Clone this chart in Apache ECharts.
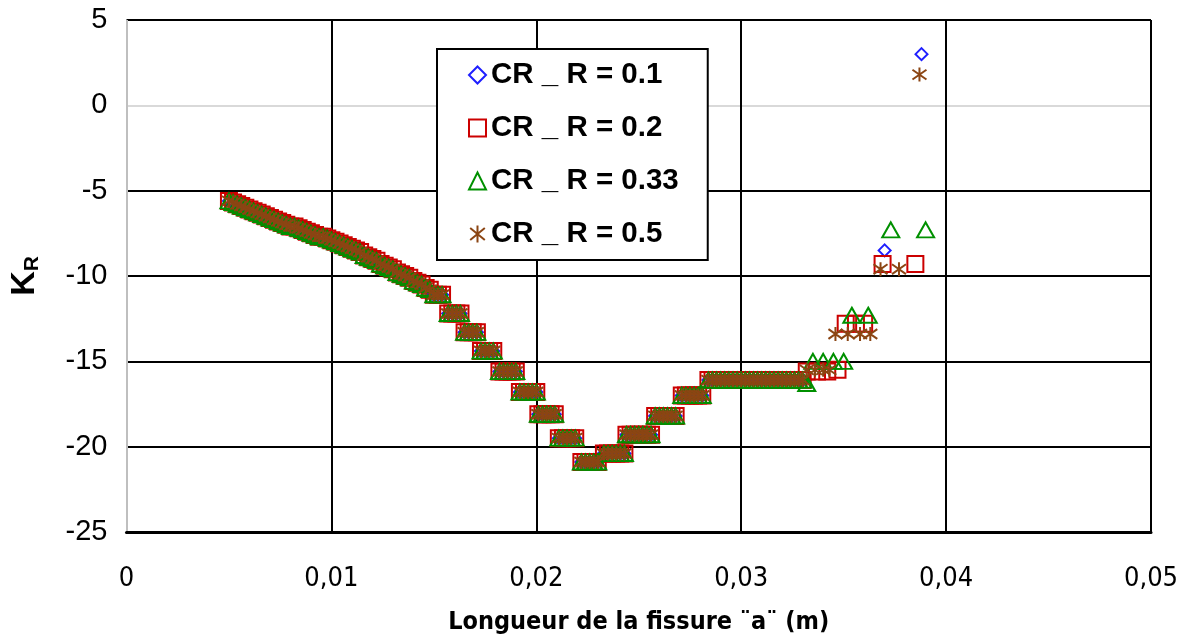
<!DOCTYPE html>
<html>
<head>
<meta charset="utf-8">
<script src="https://cdn.jsdelivr.net/npm/echarts@6/dist/echarts.min.js"></script>
<style>html,body{margin:0;padding:0;background:#fff}#c{width:1197px;height:640px}</style>
</head>
<body>
<div id="c"></div>
<script>
// ---- data ----
var seriesNames = ['CR _ R = 0.1', 'CR _ R = 0.2', 'CR _ R = 0.33', 'CR _ R = 0.5'];
var xTicks = [0, 0.01, 0.02, 0.03, 0.04, 0.05];
var yTicks = [-25, -20, -15, -10, -5, 0, 5];

// common path shared by all four series (markers overlap)
var mainPath = [
  [0.0050,-5.6],[0.0052,-5.7],[0.0054,-5.8],[0.0056,-5.9],[0.0058,-6.0],[0.0060,-6.1],[0.0062,-6.2],[0.0064,-6.3],
  [0.0066,-6.4],[0.0068,-6.5],[0.0070,-6.6],[0.0072,-6.7],[0.0074,-6.8],[0.0076,-6.9],[0.0078,-7.0],[0.0080,-7.1],
  [0.0082,-7.1],[0.0084,-7.2],[0.0086,-7.3],[0.0088,-7.4],[0.0090,-7.5],[0.0092,-7.6],[0.0094,-7.7],[0.0096,-7.7],
  [0.0098,-7.8],[0.0100,-7.9],[0.0102,-8.0],[0.0104,-8.1],[0.0106,-8.2],[0.0108,-8.3],[0.0110,-8.4],[0.0112,-8.5],
  [0.0114,-8.6],[0.0116,-8.8],[0.0118,-8.9],[0.0120,-9.0],[0.0122,-9.1],[0.0124,-9.3],[0.0126,-9.4],[0.0128,-9.5],
  [0.0130,-9.6],[0.0132,-9.8],[0.0134,-9.9],[0.0136,-10.0],[0.0138,-10.1],[0.0140,-10.3],[0.0142,-10.4],[0.0144,-10.5],
  [0.0146,-10.7],[0.0148,-10.8],
  [0.0150,-11.1],[0.0152,-11.1],[0.0154,-11.1],
  [0.0157,-12.2],[0.0159,-12.2],[0.0161,-12.2],[0.0163,-12.2],
  [0.0165,-13.3],[0.0167,-13.3],[0.0169,-13.3],[0.0171,-13.3],
  [0.0173,-14.4],[0.0175,-14.4],[0.0177,-14.4],[0.0179,-14.4],
  [0.0182,-15.6],[0.0184,-15.6],[0.0186,-15.6],[0.0188,-15.6],[0.0190,-15.6],
  [0.0192,-16.8],[0.0194,-16.8],[0.0196,-16.8],[0.0198,-16.8],[0.0200,-16.8],
  [0.0201,-18.1],[0.0203,-18.1],[0.0205,-18.1],[0.0207,-18.1],[0.0209,-18.1],
  [0.0211,-19.5],[0.0213,-19.5],[0.0215,-19.5],[0.0217,-19.5],[0.0219,-19.5],
  [0.0222,-20.9],[0.0224,-20.9],[0.0226,-20.9],[0.0228,-20.9],[0.0230,-20.9],
  [0.0233,-20.4],[0.0235,-20.4],[0.0237,-20.4],[0.0239,-20.4],[0.0241,-20.4],[0.0243,-20.4],
  [0.0244,-19.3],[0.0246,-19.3],[0.0248,-19.3],[0.0250,-19.3],[0.0252,-19.3],[0.0254,-19.3],[0.0256,-19.3],
  [0.0258,-18.2],[0.0260,-18.2],[0.0262,-18.2],[0.0264,-18.2],[0.0266,-18.2],[0.0268,-18.2],
  [0.0271,-17.0],[0.0273,-17.0],[0.0275,-17.0],[0.0277,-17.0],[0.0279,-17.0],[0.0281,-17.0],
  [0.0284,-16.1],[0.0286,-16.1],[0.0288,-16.1],[0.0290,-16.1],[0.0292,-16.1],[0.0294,-16.1],[0.0296,-16.1],[0.0298,-16.1],
  [0.0300,-16.1],[0.0302,-16.1],[0.0304,-16.1],[0.0306,-16.1],[0.0308,-16.1],[0.0310,-16.1],[0.0312,-16.1],[0.0314,-16.1],
  [0.0316,-16.1],[0.0318,-16.1],[0.0320,-16.1],[0.0322,-16.1],[0.0324,-16.1],[0.0326,-16.1],[0.0328,-16.1],[0.0330,-16.1]
];

// per-series end points (where the series separate)
var tailR01  = [[0.0370,-8.5],[0.0388,3.0]];
var tailR02  = [[0.0332,-15.6],[0.0337,-15.6],[0.0342,-15.6],[0.0347,-15.5],[0.0351,-12.8],[0.0356,-12.8],[0.0360,-12.8],[0.0369,-9.3],[0.0385,-9.3]];
var tailR033 = [[0.0332,-16.3],[0.0335,-15.0],[0.0340,-15.0],[0.0345,-15.0],[0.0350,-15.0],[0.0354,-12.3],[0.0362,-12.3],[0.0373,-7.3],[0.0390,-7.3]];
var tailR05  = [[0.0332,-15.5],[0.0336,-15.5],[0.0340,-15.5],[0.0343,-15.5],[0.0346,-13.4],[0.0352,-13.4],[0.0358,-13.4],[0.0363,-13.4],[0.0368,-9.6],[0.0377,-9.6],[0.0387,1.8]];

var tails = [tailR01, tailR02, tailR033, tailR05];
var colors = ['#1f1fff', '#cc0000', '#009000', '#8b4513'];
var symbols = ['diamond', 'rect', 'triangle', 'path://M5,0L5,10M0.7,1.5L9.3,8.5M0.7,8.5L9.3,1.5'];
var sizes = [12, 16, [17,15], 14];

var chart = echarts.init(document.getElementById('c'), null, {renderer: 'canvas'});

var series = seriesNames.map(function (name, i) {
  return {
    name: name,
    type: 'scatter',
    data: mainPath.concat(tails[i]),
    symbol: symbols[i],
    symbolSize: sizes[i],
    itemStyle: {color: 'rgba(0,0,0,0)', borderColor: colors[i], borderWidth: 2, opacity: 1},
    emphasis: {disabled: true},
    z: 3 + i
  };
});

var ySplitColors = yTicks.map(function (v) { return v === 0 ? '#d9d9d9' : '#000'; });
var xSplitColors = xTicks.map(function (v) { return v === 0 ? '#bfbfbf' : '#000'; });
var condensed = "'DejaVu Sans Condensed', 'Liberation Sans Narrow', 'DejaVu Sans', sans-serif";

chart.setOption({
  animation: false,
  backgroundColor: '#fff',
  grid: {left: 126, right: 46, top: 20, bottom: 107, containLabel: false},
  xAxis: {
    type: 'value', min: xTicks[0], max: xTicks[xTicks.length - 1], interval: 0.01,
    name: 'Longueur de la fissure ¨a¨ (m)',
    nameLocation: 'middle', nameGap: 78,
    nameTextStyle: {fontFamily: condensed, fontWeight: 'bold', fontSize: 25, color: '#000'},
    axisLine: {show: true, onZero: false, lineStyle: {color: '#000', width: 3}},
    axisTick: {show: false},
    axisLabel: {
      margin: 33, fontFamily: condensed, fontSize: 27, color: '#000',
      showMinLabel: true, showMaxLabel: true,
      formatter: function (v) { return v === 0 ? '0' : v.toFixed(2).replace('.', ','); }
    },
    splitLine: {show: true, lineStyle: {color: xSplitColors, width: 2}}
  },
  yAxis: {
    type: 'value', min: yTicks[0], max: yTicks[yTicks.length - 1], interval: 5,
    name: '{k|K}{r|R}',
    nameLocation: 'middle', nameGap: 84, nameRotate: 90,
    nameTextStyle: {
      rich: {
        k: {fontFamily: 'Liberation Sans', fontWeight: 'bold', fontSize: 34, color: '#000'},
        r: {fontFamily: 'Liberation Sans', fontWeight: 'bold', fontSize: 21, color: '#000', verticalAlign: 'bottom', padding: [14, 0, 0, 0]}
      }
    },
    axisLine: {show: false},
    axisTick: {show: false},
    axisLabel: {margin: 19, fontFamily: 'Liberation Sans', fontSize: 29, color: '#000'},
    splitLine: {show: true, lineStyle: {color: ySplitColors, width: 2}}
  },
  legend: {
    show: true, orient: 'vertical', left: 437, top: 49,
    data: seriesNames,
    backgroundColor: '#fff', borderColor: '#000', borderWidth: 2,
    padding: [11, 29, 11, 31],
    itemWidth: 17, itemHeight: 17, itemGap: 23,
    selectedMode: false,
    textStyle: {fontFamily: 'Liberation Sans', fontWeight: 'bold', fontSize: 29.5, lineHeight: 28, color: '#000'}
  },
  series: series
});
</script>
</body>
</html>
